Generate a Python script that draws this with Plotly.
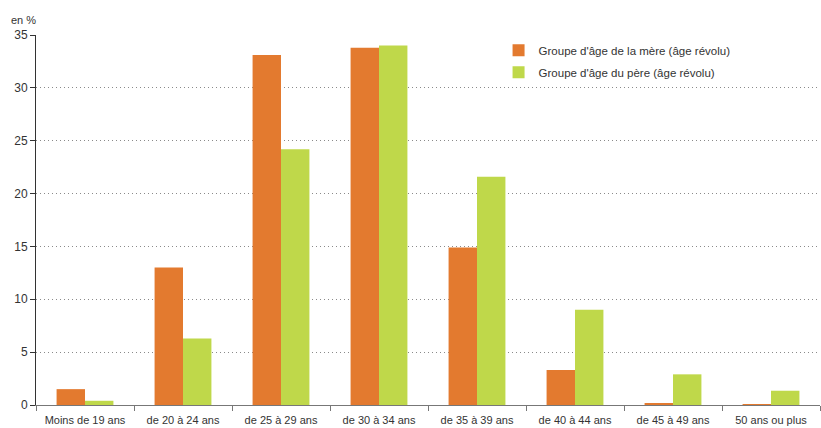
import plotly.graph_objects as go

categories = ["Moins de 19 ans", "de 20 à 24 ans", "de 25 à 29 ans", "de 30 à 34 ans",
              "de 35 à 39 ans", "de 40 à 44 ans", "de 45 à 49 ans", "50 ans ou plus"]
mere = [1.5, 13.0, 33.1, 33.8, 14.9, 3.3, 0.15, 0.03]
pere = [0.4, 6.3, 24.2, 34.0, 21.6, 9.0, 2.9, 1.35]
y_ticks = [0, 5, 10, 15, 20, 25, 30, 35]

FONT = "Liberation Sans Narrow, Arial Narrow, Liberation Sans, Arial, sans-serif"

fig = go.Figure()
fig.add_trace(go.Bar(x=categories, y=mere, name="Groupe d'âge de la mère (âge révolu)",
                     marker=dict(color="#E37A2F", line=dict(width=0)), legendgroup="a"))
fig.add_trace(go.Bar(x=categories, y=pere, name="Groupe d'âge du père (âge révolu)",
                     marker=dict(color="#BFD84A", line=dict(width=0)), legendgroup="b"))

fig.update_layout(
    width=821, height=428,
    margin=dict(l=36, r=1, t=35, b=23),
    paper_bgcolor="white", plot_bgcolor="white",
    barmode="group", bargap=0.42, bargroupgap=0,
    font=dict(family=FONT, size=11, color="#333333"),
    showlegend=True,
    legend=dict(x=0.59, y=0.998, xanchor="left", yanchor="top",
                font=dict(family=FONT, size=11.5, color="#333333"),
                bgcolor="rgba(0,0,0,0)", tracegroupgap=3, itemwidth=30),
    xaxis=dict(type="category", showline=True, linecolor="#777777", linewidth=1,
               ticks="outside", tickson="boundaries", ticklen=5, tickcolor="#777777",
               ticklabelstandoff=5,
               showgrid=False, tickfont=dict(size=11, color="#333333")),
    yaxis=dict(range=[0, 35], tickvals=y_ticks, showline=True, linecolor="#333333",
               linewidth=1, ticks="outside", ticklen=5, tickcolor="#333333",
               showgrid=True, gridcolor="#8a8a8a", griddash="1px,3px", gridwidth=1,
               zeroline=False, tickfont=dict(size=12, color="#333333")),
    annotations=[dict(text="en %", x=0, y=1, xref="paper", yref="paper",
                      xanchor="right", yanchor="bottom", xshift=2, yshift=7,
                      showarrow=False, font=dict(family=FONT, size=11, color="#333333"))],
)

fig.write_html("out.html")
